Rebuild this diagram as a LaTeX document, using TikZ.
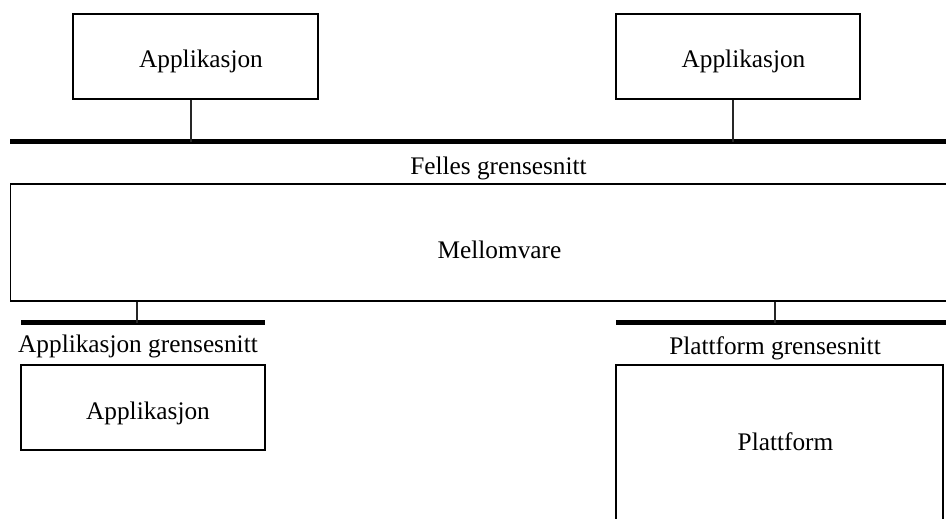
\documentclass[tikz,border=0pt]{standalone}
\usepackage{fontspec}
\setmainfont{Liberation Serif}
\begin{document}
\begin{tikzpicture}[x=1pt,y=-1pt,
  box/.style={draw=black, line width=1.1pt, inner sep=0pt, rectangle},
  lbl/.style={anchor=base, inner sep=0pt, font=\fontsize{25.3pt}{30pt}\selectfont},
  bus/.style={line width=4.8pt, black},
  link/.style={line width=1.1pt, black!85}]
  \useasboundingbox (0,0) rectangle (946,519);
  \clip (0,0) rectangle (946,519);

  % application boxes on top
  \node[box, minimum width=245pt, minimum height=85pt] (app1) at (195.5,56.5) {};
  \node[box, minimum width=244pt, minimum height=85pt] (app2) at (738,56.5) {};
  \node[lbl] (app1t) at (201,68) {Applikasjon};
  \node[lbl] (app2t) at (743.5,68) {Applikasjon};

  % common interface bus
  \coordinate (topL) at (10,141.5);
  \coordinate (topR) at (946,141.5);
  \draw[bus] (topL) -- (topR);
  \draw[link] ([xshift=-4.5pt]app1.south) -- ([xshift=-4.5pt]app1.south |- topL);
  \draw[link] ([xshift=-5pt]app2.south) -- ([xshift=-5pt]app2.south |- topL);
  \node[lbl] (felles) at (498.5,174) {Felles grensesnitt};

  % middleware
  \node[box, minimum width=949.5pt, minimum height=117pt] (mid) at (485.25,242.5) {};
  \node[lbl] (midt) at (499.5,258) {Mellomvare};

  % application interface (left)
  \coordinate (appL) at (21,322.7);
  \coordinate (appR) at (265,322.7);
  \draw[bus] (appL) -- (appR);
  \coordinate (appC) at (137,322.7);
  \draw[link] (appC |- mid.south) -- (appC);
  \node[lbl] (appif) at (138,352.5) {Applikasjon grensesnitt};
  \node[box, minimum width=244pt, minimum height=85pt] (app3) at (143,407.5) {};
  \node[lbl] (app3t) at (148,419) {Applikasjon};

  % platform interface (right)
  \coordinate (platL) at (616,322.7);
  \coordinate (platR) at (946,322.7);
  \draw[bus] (platL) -- (platR);
  \coordinate (platC) at (775,322.7);
  \draw[link] (platC |- mid.south) -- (platC);
  \node[lbl] (platif) at (775,354) {Plattform grensesnitt};
  \node[box, minimum width=327pt, minimum height=175pt] (plat) at (779.5,452.5) {};
  \node[lbl] (platt) at (785.5,450) {Plattform};
\end{tikzpicture}
\end{document}
